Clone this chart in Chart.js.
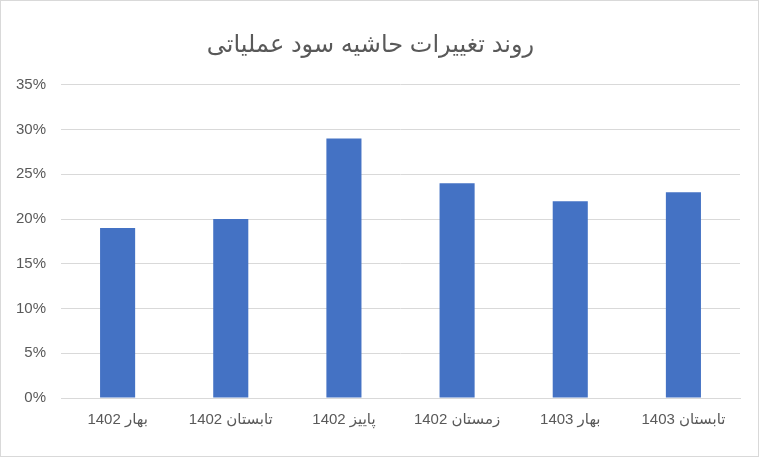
<!DOCTYPE html>
<html lang="fa">
<head>
<meta charset="utf-8">
<script src="https://cdn.jsdelivr.net/npm/chart.js@4"></script>
<style>
  html, body { margin: 0; padding: 0; background: #fff; }
  #wrap { position: relative; width: 757px; height: 455px; border: 1px solid #d9d9d9; }
</style>
</head>
<body>
<div id="wrap"><canvas id="chart" dir="rtl"></canvas></div>
<script>
// داده‌های نمودار
const categories = ["بهار 1402", "تابستان 1402", "پاییز 1402", "زمستان 1402", "بهار 1403", "تابستان 1403"];
const margins = [19, 20, 29, 24, 22, 23];
const yTicks = [0, 5, 10, 15, 20, 25, 30, 35];

const fontFamily = "Arial, 'Liberation Sans', 'DejaVu Sans', sans-serif";

new Chart(document.getElementById("chart"), {
  type: "bar",
  data: {
    labels: categories,
    datasets: [{
      label: "حاشیه سود عملیاتی",
      data: margins,
      backgroundColor: "#4472C4",
      borderWidth: 0,
      categoryPercentage: 1,
      barPercentage: 0.31,
    }]
  },
  options: {
    responsive: true,
    maintainAspectRatio: false,
    animation: false,
    layout: { padding: { left: 0, right: 18, top: 14, bottom: 14 } },
    scales: {
      x: {
        grid: { display: false, drawTicks: false },
        border: { display: true, color: "#d9d9d9" },
        ticks: { color: "#595959", font: { family: fontFamily, size: 15 }, padding: 13, maxRotation: 0 },
      },
      y: {
        min: 0,
        max: 35,
        afterBuildTicks: axis => { axis.ticks = yTicks.map(v => ({ value: v })); },
        grid: { color: "#d9d9d9", drawTicks: false },
        border: { display: false },
        ticks: {
          color: "#595959",
          font: { family: fontFamily, size: 15 },
          padding: 15,
          callback: v => v + "%",
        },
      },
    },
    plugins: {
      legend: { display: false },
      tooltip: { enabled: false },
      title: {
        display: true,
        text: "روند تغییرات حاشیه سود عملیاتی",
        color: "#595959",
        font: { family: fontFamily, size: 24, weight: "normal" },
        padding: { top: 16, bottom: 25 },
      },
    },
  },
});
</script>
</body>
</html>
